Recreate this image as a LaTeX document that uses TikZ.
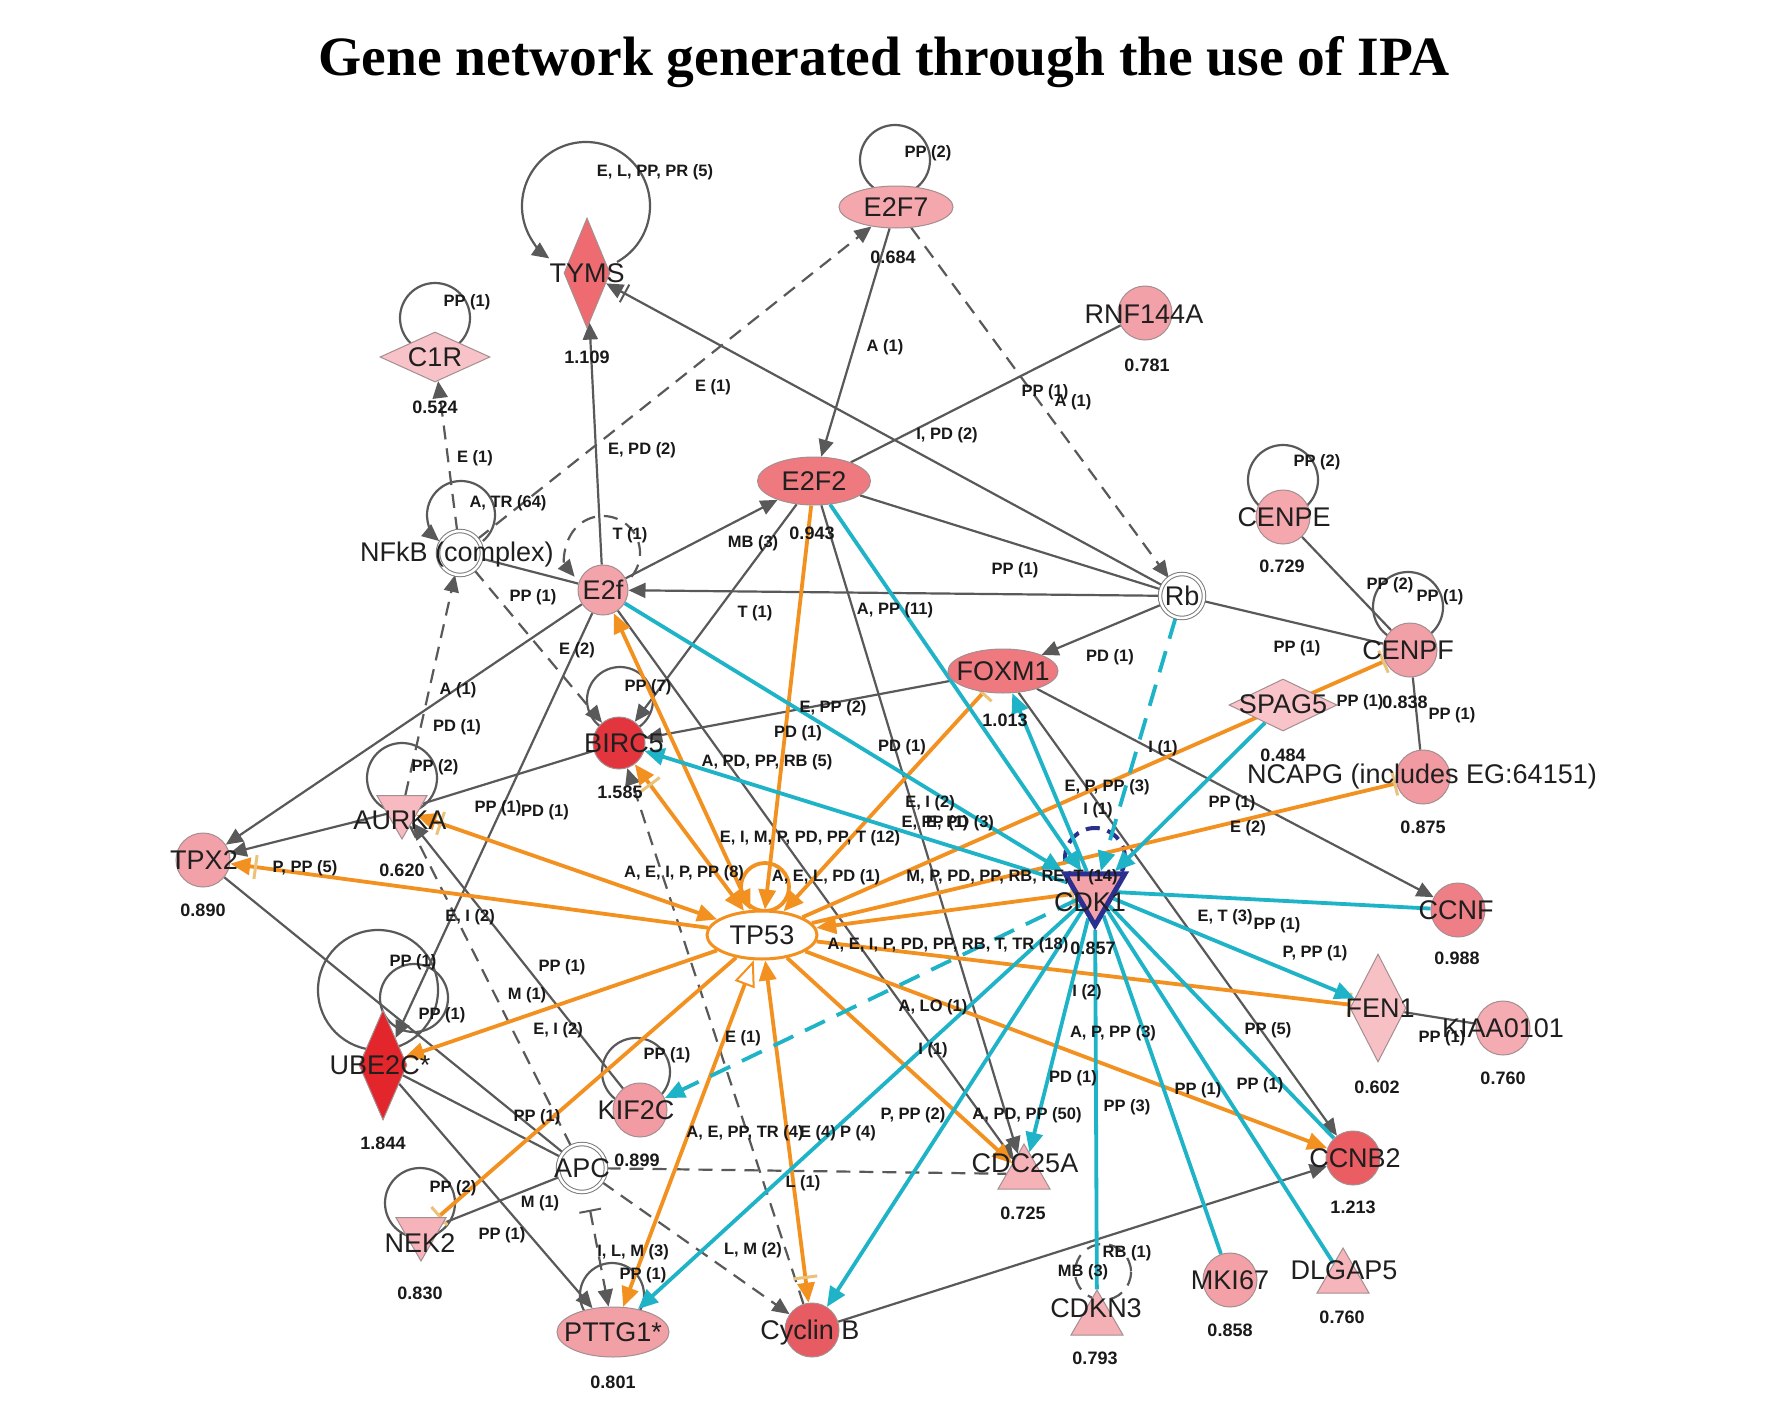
\documentclass[tikz,border=0pt]{standalone}
\usepackage{fontspec}
\setmainfont{Liberation Sans}
\newfontfamily\ttlfont{Liberation Serif}
\usetikzlibrary{arrows.meta,shapes.geometric}
\definecolor{eg}{HTML}{595959}
\definecolor{orc}{HTML}{F29120}
\definecolor{cyc}{HTML}{1FB3C8}
\definecolor{dkb}{HTML}{2B2F8E}
\definecolor{nb}{HTML}{A48E90}
\definecolor{barc}{HTML}{EBC27A}
\definecolor{cTYMS}{HTML}{EE6C71}
\definecolor{cC1R}{HTML}{F7C3C8}
\definecolor{cE2F7}{HTML}{F4A7AD}
\definecolor{cRNF}{HTML}{F3A1A8}
\definecolor{cE2F2}{HTML}{EE7A80}
\definecolor{cE2f}{HTML}{F3A3AA}
\definecolor{cCENPE}{HTML}{F4A8AE}
\definecolor{cCENPF}{HTML}{F2A0A7}
\definecolor{cFOXM1}{HTML}{EE7A80}
\definecolor{cSPAG5}{HTML}{F8C4C9}
\definecolor{cBIRC5}{HTML}{E3353D}
\definecolor{cNCAPG}{HTML}{F19AA1}
\definecolor{cTPX2}{HTML}{F3A1A8}
\definecolor{cAURKA}{HTML}{F7BAC0}
\definecolor{cCDK1}{HTML}{F4A2A9}
\definecolor{cCCNF}{HTML}{EF7F86}
\definecolor{cFEN1}{HTML}{F7C0C5}
\definecolor{cKIAA}{HTML}{F4ABB1}
\definecolor{cUBE2C}{HTML}{E3262C}
\definecolor{cKIF2C}{HTML}{F29BA2}
\definecolor{cCDC25A}{HTML}{F5B3B8}
\definecolor{cCCNB2}{HTML}{E95D63}
\definecolor{cNEK2}{HTML}{F6B3B9}
\definecolor{cMKI67}{HTML}{F3A0A7}
\definecolor{cDLGAP5}{HTML}{F6B5BA}
\definecolor{cCDKN3}{HTML}{F5B0B5}
\definecolor{cPTTG1}{HTML}{F1A0A6}
\definecolor{cCycB}{HTML}{E65C62}
\pgfdeclarelayer{back}
\pgfdeclarelayer{bg}
\pgfsetlayers{back,bg,main}
\tikzset{
 ga/.style={-{Triangle[length=17pt,width=15pt]}},
 gba/.style={-{Bar[width=20pt,line width=2pt,sep=3pt]Triangle[length=17pt,width=15pt]}},
 gbs/.style={{Bar[width=22pt,line width=2pt]}-{Triangle[length=17pt,width=15pt]}},
 oa/.style={-{Triangle[length=20pt,width=17pt]}},
 oba/.style={-{Bar[width=24pt,line width=3pt,color=barc,sep=4pt]Triangle[length=20pt,width=17pt]}},
 oaoba/.style={{Triangle[length=20pt,width=17pt]}-{Bar[width=24pt,line width=3pt,color=barc,sep=4pt]Triangle[length=20pt,width=17pt]}},
 oaoa/.style={{Triangle[length=20pt,width=17pt]}-{Triangle[length=20pt,width=17pt]}},
 ob/.style={-{Bar[width=24pt,line width=3pt,color=barc]}},
 oboa/.style={{Bar[width=24pt,line width=3pt,color=barc]}-{Triangle[length=20pt,width=17pt]}},
 oaop/.style={{Triangle[length=20pt,width=17pt]}-{Triangle[length=26pt,width=21pt,fill=white,line width=2pt]}},
 ca/.style={-{Triangle[length=20pt,width=17pt]}},
 gs/.style={draw=eg, line width=2.2pt},
 gd/.style={gs, dash pattern=on 14pt off 9pt},
 org/.style={draw=orc, line width=3.8pt},
 cyn/.style={draw=cyc, line width=3.8pt},
 cynd/.style={cyn, dash pattern=on 22pt off 13pt},
 gn/.style={circle, draw=nb, line width=1pt, minimum size=54pt, inner sep=0pt},
 el/.style={ellipse, draw=nb, line width=1pt, inner sep=0pt},
 dm/.style={diamond, draw=nb, line width=1pt, inner sep=0pt},
 tdn/.style={regular polygon, regular polygon sides=3, shape border rotate=180, draw=nb, line width=1pt, minimum size=58pt, inner sep=0pt},
 tup/.style={regular polygon, regular polygon sides=3, draw=nb, line width=1pt, minimum size=60pt, inner sep=0pt},
 dc/.style={circle, draw=eg!80, double=white, double distance=2.5pt, line width=1pt, fill=white, minimum size=44pt, inner sep=0pt},
 nt/.style={font=\fontsize{27}{30}\selectfont, text=black!88, inner sep=0pt},
 et/.style={font=\bfseries\fontsize{16.5}{18}\selectfont, text=black!90, inner sep=0pt},
 vt/.style={font=\bfseries\fontsize{18}{20}\selectfont, text=black!90, inner sep=0pt},
}
\newcommand{\elab}[4]{\node[et] (#1) at (#2,#3) {#4};}
\newcommand{\vlab}[4]{\node[vt] (#1) at (#2,#3) {#4};}
\begin{document}
\begin{tikzpicture}[x=1pt,y=-1pt]
\useasboundingbox (0,0) rectangle (1772,1418);
\begin{pgfonlayer}{back}
\fill[white] (0,0) rectangle (1772,1418);
\end{pgfonlayer}

\node[anchor=base, inner sep=0pt] (title) at (884,76) {\ttlfont\bfseries\fontsize{55.5}{60}\selectfont Gene network generated through the use of IPA};

% ---------- shape nodes ----------
\node[dm, fill=cTYMS, minimum width=46pt, minimum height=110pt] (TYMS) at (587,273) {};
\node[dm, fill=cC1R, minimum width=110pt, minimum height=50pt] (C1R) at (435,357) {};
\node[el, fill=cE2F7, minimum width=114pt, minimum height=42pt] (E2F7) at (896,207) {};
\node[gn, fill=cRNF] (RNF) at (1145,313) {};
\node[el, fill=cE2F2, minimum width=113pt, minimum height=48pt] (E2F2) at (814,481) {};
\node[dc] (NFKB) at (460,553) {};
\node[gn, fill=cE2f, minimum size=50pt] (E2f) at (603,590) {};
\node[dc] (Rb) at (1182,596) {};
\node[gn, fill=cCENPE] (CENPE) at (1283,517) {};
\node[gn, fill=cCENPF] (CENPF) at (1410,650) {};
\node[el, fill=cFOXM1, minimum width=110pt, minimum height=44pt] (FOXM1) at (1003,671) {};
\node[dm, fill=cSPAG5, minimum width=108pt, minimum height=52pt] (SPAG5) at (1283,705) {};
\node[gn, fill=cBIRC5, minimum size=52pt] (BIRC5) at (619,743) {};
\node[gn, fill=cNCAPG] (NCAPG) at (1423,777) {};
\node[gn, fill=cTPX2] (TPX2) at (203,860) {};
\node[tdn, fill=cAURKA] (AURKA) at (402,810) {};
\node[ellipse, draw=orc, line width=3pt, fill=white, minimum width=110pt, minimum height=48pt, inner sep=0pt] (TP53) at (762,935) {};
\node[tdn, fill=cCDK1, draw=dkb, line width=5pt, minimum size=69pt] (CDK1) at (1095,891) {};
\node[gn, fill=cCCNF] (CCNF) at (1458,910) {};
\node[dm, fill=cFEN1, minimum width=56pt, minimum height=108pt] (FEN1) at (1378,1008) {};
\node[gn, fill=cKIAA] (KIAA) at (1503,1028) {};
\node[dm, fill=cUBE2C, minimum width=48pt, minimum height=110pt] (UBE2C) at (383,1065) {};
\node[gn, fill=cKIF2C] (KIF2C) at (640,1110) {};
\node[tup, fill=cCDC25A] (CDC25A) at (1024,1174) {};
\node[gn, fill=cCCNB2] (CCNB2) at (1353,1158) {};
\node[dc, minimum size=48pt] (APC) at (582,1168) {};
\node[tdn, fill=cNEK2] (NEK2) at (421,1232) {};
\node[gn, fill=cMKI67] (MKI67) at (1230,1280) {};
\node[tup, fill=cDLGAP5] (DLGAP5) at (1343,1278) {};
\node[tup, fill=cCDKN3] (CDKN3) at (1097,1320) {};
\node[el, fill=cPTTG1, minimum width=112pt, minimum height=50pt] (PTTG1) at (613,1332) {};
\node[gn, fill=cCycB] (CycB) at (812,1330) {};

\begin{pgfonlayer}{bg}
% ---------- self loops ----------
\draw[gs,ga] ([shift={(-1,-67)}]TYMS.center) ++(61:64) arc[start angle=61,end angle=-235,radius=64];
\draw[gs] ([shift={(0,-39)}]C1R.center) circle[radius=35];
\draw[gs] ([shift={(-1,-47)}]E2F7.center) circle[radius=35];
\draw[gs,ga] ([shift={(1,-38)}]NFKB.center) ++(50:34) arc[start angle=50,end angle=-230,radius=34];
\draw[gd,ga] ([shift={(0,-37)}]E2f.center) ++(40:37) arc[start angle=40,end angle=-220,radius=37];
\draw[gs] ([shift={(1,-43)}]BIRC5.center) circle[radius=33];
\draw[gs] ([shift={(0,-32)}]AURKA.center) circle[radius=35];
\draw[gs] ([shift={(-5,-75)}]UBE2C.center) circle[radius=60];
\draw[gs] ([shift={(31,-67)}]UBE2C.center) circle[radius=34];
\draw[gs] ([shift={(-1,-29)}]NEK2.center) circle[radius=35];
\draw[gs] ([shift={(-4,-38)}]KIF2C.center) circle[radius=34];
\draw[gs] ([shift={(-1,-37)}]PTTG1.center) circle[radius=32];
\draw[gs] ([shift={(0,-37)}]CENPE.center) circle[radius=35];
\draw[gs] ([shift={(-2,-43)}]CENPF.center) circle[radius=35];
\draw[org] ([shift={(3,-48)}]TP53.center) circle[radius=24];
\draw[draw=dkb, line width=4pt, dash pattern=on 14pt off 8pt] ([shift={(0,-33)}]CDK1.center) circle[radius=30];
\draw[gd] ([shift={(6,-48)}]CDKN3.center) circle[radius=28];

% ---------- gray solid ----------
\draw[gs,ga] (E2f) -- (TYMS);
\draw[gs,gba] (Rb) -- (TYMS);
\draw[gs,ga] (E2F7) -- (E2F2);
\draw[gs] (RNF) -- (E2F2);
\draw[gs] (E2F2) -- (Rb);
\draw[gs,ga] (Rb) -- (E2f);
\draw[gs,ga] (Rb) -- (FOXM1);
\draw[gs] (Rb) -- (CENPF);
\draw[gs,ga] (E2f) -- (E2F2);
\draw[gs,ga] (E2F2) -- (BIRC5);
\draw[gs,ga] (E2F2) -- (CDC25A);
\draw[gs,ga] (E2f) -- (CDC25A);
\draw[gs,ga] (FOXM1) -- (CCNF);
\draw[gs,ga] (FOXM1) -- (CCNB2);
\draw[gs,ga] (FOXM1) -- (BIRC5);
\draw[gs] (BIRC5) -- (AURKA);
\draw[gs,ga] (AURKA) -- (TPX2);
\draw[gs,ga] (E2f) -- (TPX2);
\draw[gs,ga] (E2f) -- (UBE2C);
\draw[gs] (TPX2) -- (APC);
\draw[gs] (UBE2C) -- (APC);
\draw[gs,ga] (UBE2C) -- (PTTG1);
\draw[gs] (APC) -- (NEK2);
\draw[gs,ga] (KIF2C) -- (AURKA);
\draw[gs] (NFKB) -- (E2f);
\draw[gs,ga] (CycB) -- (CCNB2);
\draw[gs] (FEN1) -- (KIAA);
\draw[gs] (CENPE) -- (CENPF);
\draw[gs] (CENPF) -- (NCAPG);

% ---------- gray dashed ----------
\draw[gd,ga] (NFKB) -- (C1R);
\draw[gd,ga] (NFKB) -- (E2F7);
\draw[gd,ga] (E2F7) -- (Rb);
\draw[gd,ga] (AURKA) -- (NFKB);
\draw[gd,ga] (NFKB) -- (BIRC5);
\draw[gd,ga] (CycB) -- (BIRC5);
\draw[gd] (APC) -- (AURKA);
\draw[gd] (APC) -- (CDC25A);
\draw[gd,ga] (APC) -- (CycB);
\draw[gd,gbs,shorten <=18pt] (APC) -- (PTTG1.100);

% ---------- orange ----------
\draw[org,oba] (TP53) -- (TPX2);
\draw[org,oaoba] (TP53) -- (AURKA);
\draw[org,oaoa] (TP53) -- (E2f);
\draw[org,oaoba] (TP53) -- (BIRC5);
\draw[org,oa] (E2F2) -- (TP53);
\draw[org,oboa] (FOXM1) -- (TP53);
\draw[org,ob] (TP53) -- (CENPF);
\draw[org,ob] (TP53) -- (NCAPG);
\draw[org,oboa] (CDK1) -- (TP53);
\draw[org,ob] (TP53) -- (FEN1);
\draw[org,oa] (TP53) -- (CCNB2);
\draw[org,oa] (TP53) -- (CDC25A);
\draw[org,oaoba] (TP53) -- (CycB);
\draw[org,oaop] (PTTG1.68) -- (TP53.252);
\draw[org,oa] (TP53) -- (UBE2C);
\draw[org,ob] (TP53) -- (NEK2);

% ---------- cyan ----------
\draw[cyn,ca] (E2f) -- (CDK1);
\draw[cyn,ca] (E2F2) -- (CDK1);
\draw[cyn,ca] (CDK1) -- (FOXM1);
\draw[cynd,ca] (Rb) -- (CDK1);
\draw[cyn,ca] (SPAG5) -- (CDK1);
\draw[cyn,ca] (CDK1) -- (BIRC5);
\draw[cynd,ca] (CDK1) -- (KIF2C);
\draw[cyn,ca] (CDK1) -- (PTTG1);
\draw[cyn,ca] (CDK1) -- (CycB);
\draw[cyn,ca] (CDK1) -- (CDC25A);
\draw[cyn] (CDK1) -- (CDKN3);
\draw[cyn] (CDK1) -- (MKI67);
\draw[cyn] (CDK1) -- (DLGAP5);
\draw[cyn] (CDK1) -- (CCNB2);
\draw[cyn,ca] (CDK1) -- (FEN1);
\draw[cyn] (CDK1) -- (CCNF);
\end{pgfonlayer}

% ---------- node names ----------
\node[nt] (tTYMS) at (587,273) {TYMS};
\node[nt] (tC1R) at (435,357) {C1R};
\node[nt] (tE2F7) at (896,207) {E2F7};
\node[nt] (tRNF) at (1144,314) {RNF144A};
\node[nt] (tE2F2) at (814,481) {E2F2};
\node[nt] (tNFKB) at (457,555) {NFkB (complex)};
\node[nt] (tE2f) at (603,590) {E2f};
\node[nt] (tRb) at (1182,596) {Rb};
\node[nt] (tCENPE) at (1284,517) {CENPE};
\node[nt] (tCENPF) at (1408,650) {CENPF};
\node[nt] (tFOXM1) at (1003,671) {FOXM1};
\node[nt] (tSPAG5) at (1283,704) {SPAG5};
\node[nt] (tBIRC5) at (624,743) {BIRC5};
\node[nt] (tNCAPG) at (1422,777) {NCAPG (includes EG:64151)};
\node[nt] (tTPX2) at (204,860) {TPX2};
\node[nt] (tAURKA) at (400,820) {AURKA};
\node[nt] (tTP53) at (762,935) {TP53};
\node[nt] (tCDK1) at (1090,902) {CDK1};
\node[nt] (tCCNF) at (1456,910) {CCNF};
\node[nt] (tFEN1) at (1380,1008) {FEN1};
\node[nt] (tKIAA) at (1503,1028) {KIAA0101};
\node[nt] (tUBE2C) at (380,1065) {UBE2C*};
\node[nt] (tKIF2C) at (636,1110) {KIF2C};
\node[nt] (tCDC25A) at (1025,1163) {CDC25A};
\node[nt] (tCCNB2) at (1355,1158) {CCNB2};
\node[nt] (tAPC) at (582,1168) {APC};
\node[nt] (tNEK2) at (420,1243) {NEK2};
\node[nt] (tMKI67) at (1230,1280) {MKI67};
\node[nt] (tDLGAP5) at (1344,1270) {DLGAP5};
\node[nt] (tCDKN3) at (1096,1308) {CDKN3};
\node[nt] (tPTTG1) at (613,1332) {PTTG1*};
\node[nt] (tCycB) at (810,1333) {Cyclin B};

% ---------- values ----------
\vlab{v1}{587}{357}{1.109}
\vlab{v2}{435}{407}{0.524}
\vlab{v3}{893}{257}{0.684}
\vlab{v4}{1147}{365}{0.781}
\vlab{v5}{812}{533}{0.943}
\vlab{v6}{1282}{566}{0.729}
\vlab{v7}{1405}{702}{0.838}
\vlab{v8}{1005}{720}{1.013}
\vlab{v9}{1283}{755}{0.484}
\vlab{v10}{620}{792}{1.585}
\vlab{v11}{1423}{827}{0.875}
\vlab{v12}{203}{910}{0.890}
\vlab{v13}{402}{870}{0.620}
\vlab{v14}{1093}{948}{0.857}
\vlab{v15}{1457}{958}{0.988}
\vlab{v16}{1377}{1087}{0.602}
\vlab{v17}{1503}{1078}{0.760}
\vlab{v18}{383}{1143}{1.844}
\vlab{v19}{637}{1160}{0.899}
\vlab{v20}{1023}{1213}{0.725}
\vlab{v21}{1353}{1207}{1.213}
\vlab{v22}{420}{1293}{0.830}
\vlab{v23}{1230}{1330}{0.858}
\vlab{v24}{1342}{1317}{0.760}
\vlab{v25}{1095}{1358}{0.793}
\vlab{v26}{613}{1382}{0.801}

% ---------- edge labels ----------
\elab{e1}{655}{172}{E, L, PP, PR (5)}
\elab{e2}{467}{302}{PP (1)}
\elab{e3}{928}{153}{PP (2)}
\elab{e4}{885}{347}{A (1)}
\elab{e5}{713}{387}{E (1)}
\elab{e6}{475}{458}{E (1)}
\elab{e7}{642}{450}{E, PD (2)}
\elab{e8}{1045}{392}{PP (1)}
\elab{e9}{1073}{402}{A (1)}
\elab{e10}{947}{435}{I, PD (2)}
\elab{e11}{508}{503}{A, TR (64)}
\elab{e12}{630}{535}{T (1)}
\elab{e13}{753}{543}{MB (3)}
\elab{e14}{1015}{570}{PP (1)}
\elab{e15}{533}{597}{PP (1)}
\elab{e16}{755}{613}{T (1)}
\elab{e17}{895}{610}{A, PP (11)}
\elab{e18}{577}{650}{E (2)}
\elab{e19}{1110}{657}{PD (1)}
\elab{e20}{1317}{462}{PP (2)}
\elab{e21}{1390}{585}{PP (2)}
\elab{e22}{1440}{597}{PP (1)}
\elab{e23}{1297}{648}{PP (1)}
\elab{e24}{1360}{702}{PP (1)}
\elab{e25}{1452}{715}{PP (1)}
\elab{e26}{648}{687}{PP (7)}
\elab{e27}{458}{690}{A (1)}
\elab{e28}{833}{708}{E, PP (2)}
\elab{e29}{457}{727}{PD (1)}
\elab{e30}{798}{733}{PD (1)}
\elab{e31}{902}{747}{PD (1)}
\elab{e32}{1163}{748}{I (1)}
\elab{e33}{767}{762}{A, PD, PP, RB (5)}
\elab{e34}{435}{767}{PP (2)}
\elab{e35}{1107}{787}{E, P, PP (3)}
\elab{e36}{1232}{803}{PP (1)}
\elab{e37}{930}{803}{E, I (2)}
\elab{e38}{498}{808}{PP (1)}
\elab{e39}{545}{812}{PD (1)}
\elab{e40}{1098}{810}{I (1)}
\elab{e41}{935}{823}{E, PP (1)}
\elab{e42}{960}{823}{E, PD (3)}
\elab{e43}{1248}{828}{E (2)}
\elab{e44}{810}{838}{E, I, M, P, PD, PP, T (12)}
\elab{e45}{305}{868}{P, PP (5)}
\elab{e46}{684}{873}{A, E, I, P, PP (8)}
\elab{e47}{826}{877}{A, E, L, PD (1)}
\elab{e48}{1012}{877}{M, P, PD, PP, RB, RE, T (14)}
\elab{e49}{948}{945}{A, E, I, P, PD, PP, RB, T, TR (18)}
\elab{e50}{1225}{917}{E, T (3)}
\elab{e51}{1277}{925}{PP (1)}
\elab{e52}{1315}{953}{P, PP (1)}
\elab{e53}{470}{917}{E, I (2)}
\elab{e54}{413}{962}{PP (1)}
\elab{e55}{562}{967}{PP (1)}
\elab{e56}{1087}{992}{I (2)}
\elab{e57}{527}{995}{M (1)}
\elab{e58}{933}{1007}{A, LO (1)}
\elab{e59}{442}{1015}{PP (1)}
\elab{e60}{1268}{1030}{PP (5)}
\elab{e61}{558}{1030}{E, I (2)}
\elab{e62}{1113}{1033}{A, P, PP (3)}
\elab{e63}{1442}{1038}{PP (1)}
\elab{e64}{743}{1038}{E (1)}
\elab{e65}{933}{1050}{I (1)}
\elab{e66}{667}{1055}{PP (1)}
\elab{e67}{1073}{1078}{PD (1)}
\elab{e68}{1198}{1090}{PP (1)}
\elab{e69}{1260}{1085}{PP (1)}
\elab{e70}{1127}{1107}{PP (3)}
\elab{e71}{913}{1115}{P, PP (2)}
\elab{e72}{1027}{1115}{A, PD, PP (50)}
\elab{e73}{537}{1117}{PP (1)}
\elab{e74}{745}{1133}{A, E, PP, TR (4)}
\elab{e75}{818}{1133}{E (4)}
\elab{e76}{858}{1133}{P (4)}
\elab{e77}{803}{1183}{L (1)}
\elab{e78}{540}{1203}{M (1)}
\elab{e79}{453}{1188}{PP (2)}
\elab{e80}{502}{1235}{PP (1)}
\elab{e81}{753}{1250}{L, M (2)}
\elab{e82}{633}{1252}{I, L, M (3)}
\elab{e83}{1127}{1253}{RB (1)}
\elab{e84}{643}{1275}{PP (1)}
\elab{e85}{1083}{1272}{MB (3)}
\end{tikzpicture}
\end{document}
